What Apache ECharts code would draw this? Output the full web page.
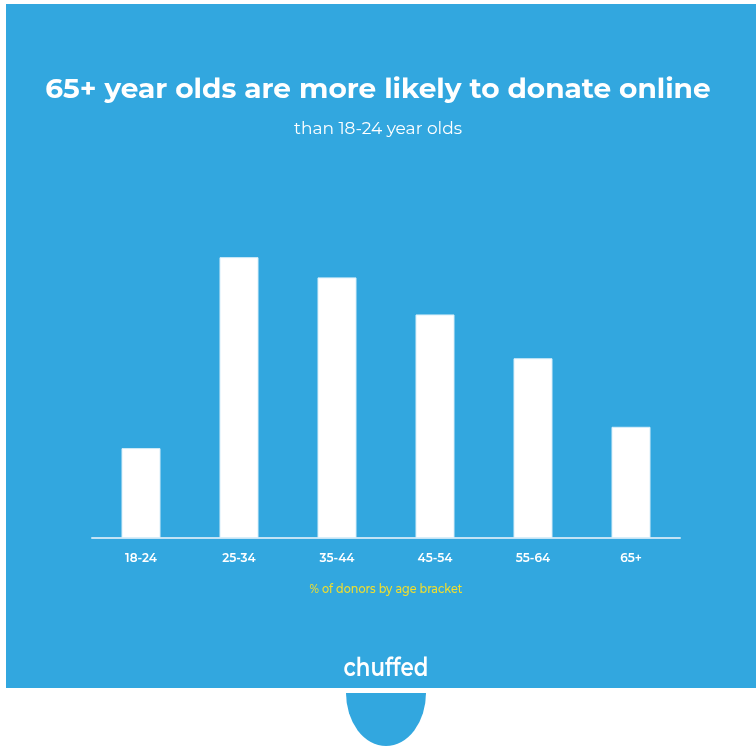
<!DOCTYPE html>
<html>
<head>
<meta charset="utf-8">
<script src="https://cdn.jsdelivr.net/npm/echarts@6/dist/echarts.min.js"></script>
<style>
html,body{margin:0;padding:0;background:#fff;}
#c{width:756px;height:747px;}
</style>
</head>
<body>
<div id="c"></div>
<script>
const categories = ['18-24', '25-34', '35-44', '45-54', '55-64', '65+'];
const donorShare = [8, 25, 23.2, 19.9, 16, 9.9];
const titleText = '65+ year olds are more likely to donate online';
const subtitleText = 'than 18-24 year olds';
const axisCaption = '% of donors by age bracket';

const chart = echarts.init(document.getElementById('c'), null, {renderer: 'canvas'});
const font = 'Montserrat, "Open Sans", Lato, sans-serif';
chart.setOption({
  backgroundColor: '#ffffff',
  animation: false,
  graphic: [
    {type: 'rect', z: -10, shape: {x: 6, y: 4, width: 750, height: 684}, style: {fill: '#32a7df'}},
    {type: 'sector', z: -10, shape: {cx: 386, cy: 693, r: 40, r0: 0, startAngle: 0, endAngle: Math.PI, clockwise: true},
      scaleY: 53 / 40, originX: 386, originY: 693, style: {fill: '#32a7df'}},
    {type: 'text', x: 386, y: 655, originX: 0, originY: 0, scaleX: 0.82,
      style: {text: 'chuffed', fill: '#ffffff', font: '600 26px ' + font, textAlign: 'center'}},
    {type: 'text', x: 386, y: 583, originX: 0, originY: 0, scaleX: 0.86,
      style: {text: axisCaption, fill: '#f3df2b', font: '500 13px ' + font, textAlign: 'center'}}
  ],
  title: [
    {text: titleText, left: 'center', top: 71, textStyle: {color: '#ffffff', fontSize: 28, fontWeight: 'bold', fontFamily: font}},
    {text: subtitleText, left: 'center', top: 115, textStyle: {color: '#ffffff', fontSize: 17, fontWeight: 'normal', fontFamily: font}}
  ],
  grid: {left: 92, right: 76, top: 201, bottom: 209},
  xAxis: {
    type: 'category', data: categories,
    axisLine: {lineStyle: {color: '#c3e3f5', width: 2}},
    axisTick: {show: false},
    axisLabel: {color: '#ffffff', fontSize: 12, fontWeight: 600, margin: 14, fontFamily: font}
  },
  yAxis: {type: 'value', min: 0, max: 30, show: false, splitLine: {show: false}},
  series: [{
    type: 'bar', data: donorShare, barWidth: 39,
    itemStyle: {color: '#ffffff', borderColor: '#d8eef9', borderWidth: 1}
  }]
});
</script>
</body>
</html>
